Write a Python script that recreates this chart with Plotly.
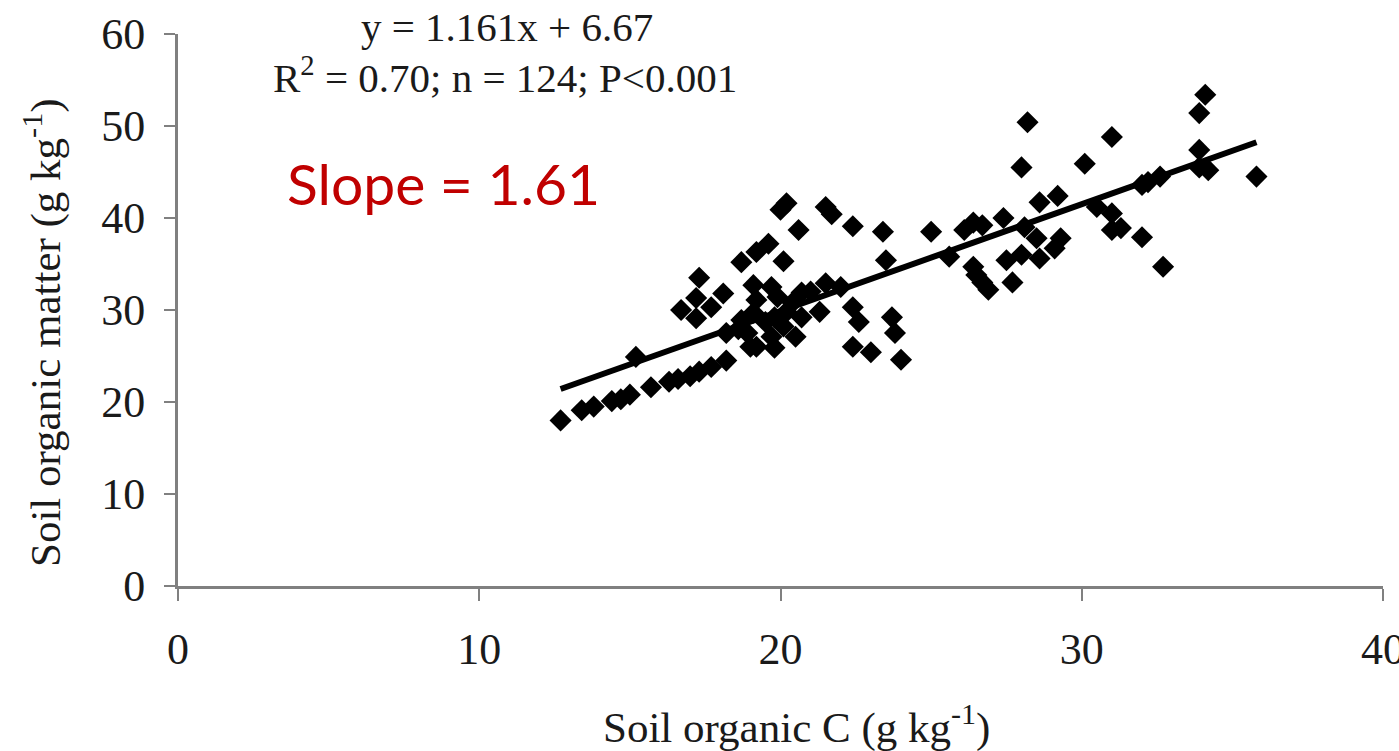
import plotly.graph_objects as go

# Soil organic C (g kg-1) and Soil organic matter (g kg-1)
soc = [
    12.7, 13.4, 13.8, 14.4, 14.7, 15.0, 15.7, 16.3, 16.6, 17.0, 17.3, 17.7, 18.2, 15.2,
    20.2, 20.0, 21.5, 21.7, 22.4, 20.6, 19.6, 19.2, 18.7, 20.1, 17.3, 18.1, 17.2, 16.7,
    17.7, 17.2, 21.5, 22.0, 21.3, 22.4, 22.6, 22.4, 23.0, 23.7, 23.8, 24.0,
    19.1, 19.7, 19.2, 19.9, 20.7, 21.0, 20.4, 19.1, 19.8, 20.7, 18.9, 19.7, 20.1, 20.5,
    19.2, 19.8, 19.5, 20.2, 18.7, 18.2, 18.6, 19.0,
    23.4, 23.5, 25.0, 26.1, 26.4, 26.7, 27.4, 28.1, 28.6, 29.2, 30.5, 31.0, 31.0, 31.3,
    32.0, 25.6, 26.4, 26.5, 26.7, 26.9, 27.7, 27.5, 28.0, 28.5, 28.6, 29.1, 29.3,
    28.2, 28.0, 30.1, 31.0, 34.1, 33.9, 33.9, 33.9, 34.2, 35.8, 32.2, 32.6, 32.0, 32.7,
]
som = [
    18.0, 19.1, 19.5, 20.1, 20.3, 20.8, 21.6, 22.2, 22.5, 22.8, 23.3, 23.8, 24.5, 24.9,
    41.6, 40.9, 41.2, 40.4, 39.1, 38.7, 37.2, 36.3, 35.2, 35.3, 33.5, 31.8, 31.3, 30.0,
    30.3, 29.1, 32.9, 32.5, 29.8, 30.3, 28.7, 26.0, 25.4, 29.2, 27.5, 24.6,
    32.7, 32.5, 31.1, 31.4, 31.9, 32.0, 30.8, 29.7, 29.2, 29.2, 27.5, 27.1, 28.2, 27.1,
    26.0, 25.9, 28.7, 29.8, 28.9, 27.5, 27.9, 26.0,
    38.5, 35.4, 38.5, 38.7, 39.5, 39.2, 40.0, 39.0, 41.7, 42.4, 41.2, 40.5, 38.7, 38.9,
    37.9, 35.8, 34.7, 33.8, 33.0, 32.2, 33.0, 35.4, 36.0, 37.8, 35.6, 36.7, 37.8,
    50.4, 45.5, 45.9, 48.8, 53.4, 51.4, 47.4, 45.5, 45.2, 44.5, 43.9, 44.5, 43.6, 34.7,
]

# Fitted regression
slope = 1.161
intercept = 6.67
fit_x = [min(soc), max(soc)]
fit_y = [slope * v + intercept for v in fit_x]

x_ticks = [0, 10, 20, 30, 40]
y_ticks = [0, 10, 20, 30, 40, 50, 60]

fig = go.Figure()
fig.add_trace(go.Scatter(
    x=soc, y=som, mode="markers",
    marker=dict(symbol="diamond", size=17, color="black", line=dict(width=0)),
    showlegend=False,
))
fig.add_trace(go.Scatter(
    x=fit_x, y=fit_y, mode="lines",
    line=dict(color="black", width=6),
    showlegend=False,
))

serif = "Liberation Serif, Times New Roman, serif"
axis_col = "#808080"
txt_col = "#1a1a1a"

fig.update_layout(
    width=1399, height=751,
    margin=dict(l=178, r=16, t=34, b=165),
    paper_bgcolor="white", plot_bgcolor="white",
    xaxis=dict(
        range=[0, 40], tickvals=x_ticks, ticktext=[str(v) for v in x_ticks],
        showgrid=False, zeroline=False, showline=True, linecolor=axis_col, linewidth=3,
        ticks="outside", ticklen=12, tickwidth=2, tickcolor=axis_col,
        tickfont=dict(family=serif, size=44, color=txt_col),
        ticklabelstandoff=10, ticklabeloverflow="allow", automargin=False,
    ),
    yaxis=dict(
        range=[0, 60], tickvals=y_ticks, ticktext=[str(v) for v in y_ticks],
        showgrid=False, zeroline=False, showline=True, linecolor=axis_col, linewidth=3,
        ticks="outside", ticklen=11, tickwidth=2, tickcolor=axis_col,
        tickfont=dict(family=serif, size=44, color=txt_col),
        ticklabelstandoff=10, ticklabeloverflow="allow", automargin=False,
    ),
    annotations=[
        dict(text="y = 1.161x + 6.67", xref="paper", yref="paper", x=0.273, y=1.013,
             xanchor="center", yanchor="middle", showarrow=False,
             font=dict(family=serif, size=41, color=txt_col)),
        dict(text="R<sup>2</sup> = 0.70; n = 124; P<0.001", xref="paper", yref="paper",
             x=0.271, y=0.925, xanchor="center", yanchor="middle", showarrow=False,
             font=dict(family=serif, size=41, color=txt_col)),
        dict(text="Slope = 1.61", xref="paper", yref="paper", x=(285 - 178) / 1205,
             y=(586 - 183) / 552, xanchor="left", yanchor="middle", showarrow=False,
             font=dict(family="Lato, Carlito, sans-serif", size=57, color="#C00000")),
        dict(text="Soil organic C (g kg<sup>-1</sup>)", xref="paper", yref="paper",
             x=(797 - 178) / 1205, y=(586 - 724) / 552, xanchor="center", yanchor="middle",
             showarrow=False, font=dict(family=serif, size=43, color=txt_col)),
        dict(text="Soil organic matter (g kg<sup>-1</sup>)", xref="paper", yref="paper",
             x=(42 - 178) / 1205, y=(586 - 333) / 552, xanchor="center", yanchor="middle",
             textangle=-90, showarrow=False,
             font=dict(family=serif, size=43, color=txt_col)),
    ],
)

fig.write_html("out.html")
